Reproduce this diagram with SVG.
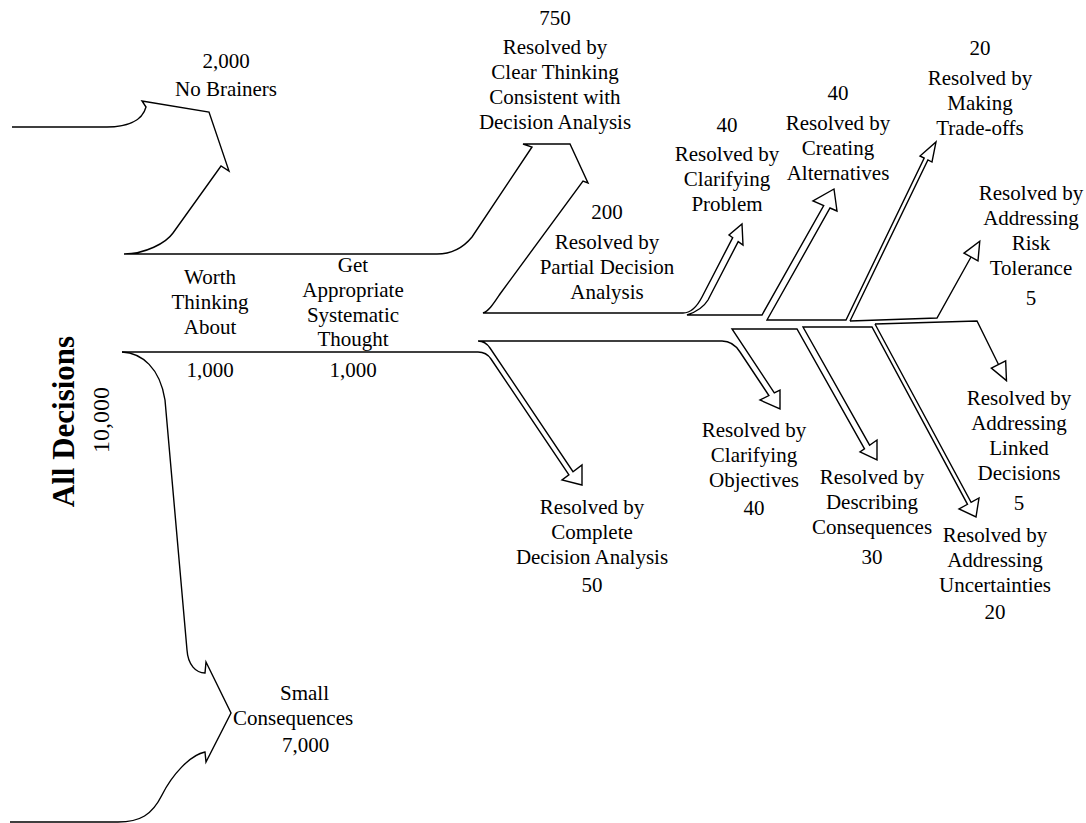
<svg xmlns="http://www.w3.org/2000/svg" width="1086" height="823" viewBox="0 0 1086 823">
<style>
.flow{fill:none;stroke:#000;stroke-width:1.4;stroke-linejoin:miter}
.t{font-family:"Liberation Serif","Times New Roman",serif;font-size:21px;fill:#000;text-anchor:middle}
.s{text-anchor:start}
.big{font-size:31px;font-weight:bold}
.num{font-size:24px}
</style>
<defs>
<marker id="open" viewBox="-2 -10 22 20" markerWidth="22" markerHeight="20" refX="0" refY="0" orient="auto" markerUnits="userSpaceOnUse">
<path d="M0,-8 L18,0 L0,8 Z" fill="#fff" stroke="#000" stroke-width="1.4"/>
</marker>
</defs>
<rect width="1086" height="823" fill="#fff"/>
<g id="connectors">
<path class="flow" d="M12,127 L107,127 C125,127 142,122 146,107 L142,101 L209,112 L229,171 L221,166 L173,233 C166,243 145,254 124,254 L437,254 C452,254 463,248 472,237 L532,147 L523,144 L570,144 L588,183 L583,181 L500,294 C494,303 489,311 483,313 L683,313 Q693.7,313 702,297 L732.7,237.6 L729,235 L742,224 L743,245 L738.2,241.6 L708,300 Q702,310 687,315 L762,315 L823.7,205.5 L813,201 L834,189 L837,211 L830,208 L767,320 L846,320 L924.2,158.1 L920,156 L936,142 L932,162 L927.9,159.9 L850,321"/>
<path class="flow" d="M122,352 L478,352 Q486.4,352 491,359 L568.9,474.8 L562,480 L582,485 L582,465 L573,471.7 L490,348 Q485.3,341 478,341 L722,341 Q733,341 740,352 L768.9,395.5 L760,400 L780,409 L780,390 L774.3,392.8 L732,329 L797,329 L864.5,448.8 L860,452 L877,460 L877,440 L869.6,445.2 L803,327 L872,327 L967.5,504.3 L959,509 L976,517 L979,498 L971.1,502.4 L875,324"/>
<path class="flow" d="M122,352 C142,353 160,368 165,400 L187,650 C188,665 196,673 205,673 L206,662 L231,713 L206,762 L205,752 C190,755 172,775 162,795 C152,815 140,822 118,822 L10,822"/>
<path class="flow" d="M850,321 L937,318 L971,257" marker-end="url(#open)"/>
<path class="flow" d="M875,324 L977,321 L998.5,364.5" marker-end="url(#open)"/>
</g>
<g id="n-all">
<text class="t big" transform="translate(74,421.5) rotate(-90)">All Decisions</text>
<text class="t num" transform="translate(109,420) rotate(-90)">10,000</text>
</g>
<g id="n-nobrainers">
<text class="t" x="226" y="68">2,000</text>
<text class="t" x="226" y="96">No Brainers</text>
</g>
<g id="n-worth">
<text class="t" x="210" y="284">Worth</text>
<text class="t" x="210" y="309">Thinking</text>
<text class="t" x="210" y="334">About</text>
<text class="t" x="210" y="377">1,000</text>
</g>
<g id="n-systematic">
<text class="t" x="353" y="272">Get</text>
<text class="t" x="353" y="297">Appropriate</text>
<text class="t" x="353" y="322">Systematic</text>
<text class="t" x="353" y="346">Thought</text>
<text class="t" x="353" y="377">1,000</text>
</g>
<g id="n-clear">
<text class="t" x="555" y="25">750</text>
<text class="t" x="555" y="54">Resolved by</text>
<text class="t" x="555" y="79">Clear Thinking</text>
<text class="t" x="555" y="104">Consistent with</text>
<text class="t" x="555" y="129">Decision Analysis</text>
</g>
<g id="n-partial">
<text class="t" x="607" y="219">200</text>
<text class="t" x="607" y="249">Resolved by</text>
<text class="t" x="607" y="274">Partial Decision</text>
<text class="t" x="607" y="299">Analysis</text>
</g>
<g id="n-complete">
<text class="t" x="592" y="514">Resolved by</text>
<text class="t" x="592" y="539">Complete</text>
<text class="t" x="592" y="564">Decision Analysis</text>
<text class="t" x="592" y="592">50</text>
</g>
<g id="n-problem">
<text class="t" x="727" y="132">40</text>
<text class="t" x="727" y="161">Resolved by</text>
<text class="t" x="727" y="186">Clarifying</text>
<text class="t" x="727" y="211">Problem</text>
</g>
<g id="n-alternatives">
<text class="t" x="838" y="100">40</text>
<text class="t" x="838" y="130">Resolved by</text>
<text class="t" x="838" y="155">Creating</text>
<text class="t" x="838" y="180">Alternatives</text>
</g>
<g id="n-tradeoffs">
<text class="t" x="980" y="55">20</text>
<text class="t" x="980" y="85">Resolved by</text>
<text class="t" x="980" y="110">Making</text>
<text class="t" x="980" y="135">Trade-offs</text>
</g>
<g id="n-risk">
<text class="t" x="1031" y="200">Resolved by</text>
<text class="t" x="1031" y="225">Addressing</text>
<text class="t" x="1031" y="250">Risk</text>
<text class="t" x="1031" y="275">Tolerance</text>
<text class="t" x="1031" y="305">5</text>
</g>
<g id="n-linked">
<text class="t" x="1019" y="405">Resolved by</text>
<text class="t" x="1019" y="430">Addressing</text>
<text class="t" x="1019" y="455">Linked</text>
<text class="t" x="1019" y="480">Decisions</text>
<text class="t" x="1019" y="510">5</text>
</g>
<g id="n-uncertainties">
<text class="t" x="995" y="542">Resolved by</text>
<text class="t" x="995" y="567">Addressing</text>
<text class="t" x="995" y="592">Uncertainties</text>
<text class="t" x="995" y="619">20</text>
</g>
<g id="n-consequences">
<text class="t" x="872" y="484">Resolved by</text>
<text class="t" x="872" y="509">Describing</text>
<text class="t" x="872" y="534">Consequences</text>
<text class="t" x="872" y="564">30</text>
</g>
<g id="n-objectives">
<text class="t" x="754" y="437">Resolved by</text>
<text class="t" x="754" y="462">Clarifying</text>
<text class="t" x="754" y="487">Objectives</text>
<text class="t" x="754" y="515">40</text>
</g>
<g id="n-small">
<text class="t s" x="280" y="700">Small</text>
<text class="t s" x="233" y="725">Consequences</text>
<text class="t s" x="282" y="752">7,000</text>
</g>
</svg>
